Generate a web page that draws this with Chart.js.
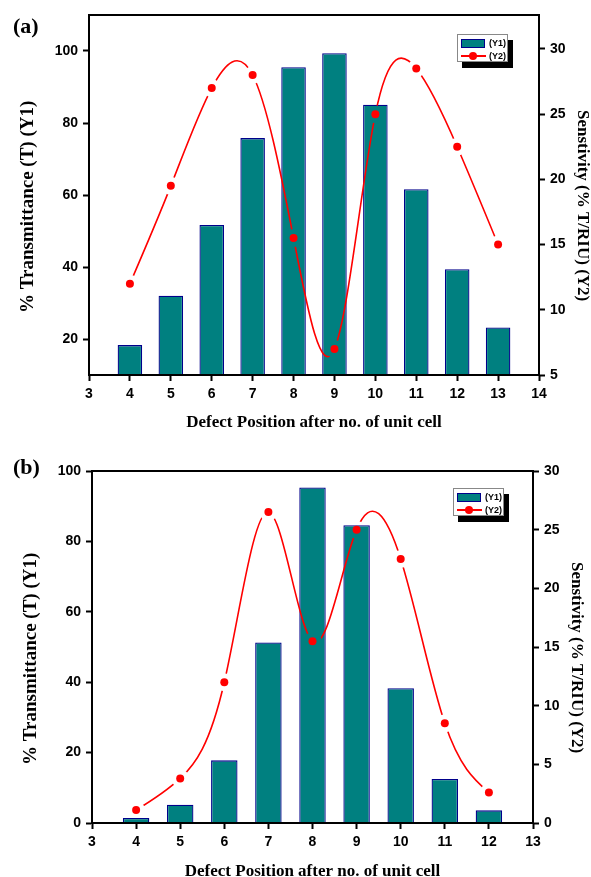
<!DOCTYPE html>
<html>
<head>
<meta charset="utf-8">
<script src="https://cdn.jsdelivr.net/npm/chart.js@4.4.0/dist/chart.umd.min.js"></script>
<style>
  body { margin: 0; background: #fff; width: 591px; height: 877px; overflow: hidden; position: relative; }
  .panel { position: absolute; left: 0; width: 591px; }
  .tag { position: absolute; left: 13px; font: bold 22px "Liberation Serif", serif; line-height: 1; }
  .legend { position: absolute; width: 49px; height: 26px; border: 1px solid #888; background: #fff;
            box-shadow: 5px 6px 0 #000; font: bold 9px "Liberation Sans", Arial, sans-serif; }
  .legend .row { position: absolute; left: 3px; height: 10px; width: 48px; }
  .legend .sw { position: absolute; left: 0; top: 1px; width: 22px; height: 7px; background: #008080; border: 1px solid #00008b; }
  .legend .ln { position: absolute; left: 0; top: 4px; width: 25px; height: 2px; background: #ff0000; }
  .legend .dot { position: absolute; left: 8px; top: 1px; width: 8px; height: 8px; border-radius: 50%; background: #ff0000; }
  .legend .txt { position: absolute; left: 28px; top: 0; line-height: 10px; }
</style>
</head>
<body>
<div class="panel" style="top:0;height:438px"><canvas id="chartA" width="591" height="438"></canvas></div>
<div class="panel" style="top:438px;height:445px"><canvas id="chartB" width="591" height="445"></canvas></div>
<div class="tag" style="top:15px">(a)</div>
<div class="tag" style="top:456px">(b)</div>
<div class="legend" style="left:457px;top:34px">
  <div class="row" style="top:3px"><div class="sw"></div><div class="txt">(Y1)</div></div>
  <div class="row" style="top:16px"><div class="ln"></div><div class="dot"></div><div class="txt">(Y2)</div></div>
</div>
<div class="legend" style="left:453px;top:488px">
  <div class="row" style="top:3px"><div class="sw"></div><div class="txt">(Y1)</div></div>
  <div class="row" style="top:16px"><div class="ln"></div><div class="dot"></div><div class="txt">(Y2)</div></div>
</div>
<script>
// panel (a)
var posA = [4, 5, 6, 7, 8, 9, 10, 11, 12, 13];
var transA = [18.3, 32.0, 51.7, 75.8, 95.5, 99.4, 85.1, 61.6, 39.4, 23.2];
var sensA = [12.0, 19.5, 27.0, 28.0, 15.5, 7.0, 25.0, 28.5, 22.5, 15.0];
var xTicksA = [3, 4, 5, 6, 7, 8, 9, 10, 11, 12, 13, 14];
var y1TicksA = [20, 40, 60, 80, 100];
var y2TicksA = [5, 10, 15, 20, 25, 30];

// panel (b)
var posB = [4, 5, 6, 7, 8, 9, 10, 11, 12];
var transB = [1.4, 5.2, 17.8, 51.3, 95.3, 84.6, 38.3, 12.5, 3.6];
var sensB = [1.1, 3.8, 12.0, 26.5, 15.5, 25.0, 22.5, 8.5, 2.6];
var xTicksB = [3, 4, 5, 6, 7, 8, 9, 10, 11, 12, 13];
var y1TicksB = [0, 20, 40, 60, 80, 100];
var y2TicksB = [0, 5, 10, 15, 20, 25, 30];

var xTitle = 'Defect Position after no. of unit cell';
// les espaces décalent un peu les titres vers le bas, comme sur l'original
var y1Title = '% Transmittance (T) (Y1)     ';
var y2Title = '     Senstivity (% T/RIU) (Y2)';

Chart.defaults.font.family = '"Liberation Sans", Arial, sans-serif';
Chart.defaults.color = '#000';

var tickFont = { family: '"Liberation Sans", Arial, sans-serif', size: 14, weight: 'bold' };

// cadre noir autour de la zone de tracé
var frame = {
  id: 'frame',
  afterDatasetsDraw: function (chart) {
    var a = chart.chartArea, ctx = chart.ctx;
    ctx.save();
    ctx.strokeStyle = '#000';
    ctx.lineWidth = 2;
    ctx.strokeRect(a.left, a.top, a.right - a.left, a.bottom - a.top);
    ctx.restore();
  }
};

// pentes d'une spline cubique naturelle (en pixels)
function splineSlopes(p) {
  var n = p.length, h = [], d = [], M = [], cp = [], rp = [], s = [];
  for (var i = 0; i < n - 1; i++) {
    h[i] = p[i + 1].x - p[i].x;
    d[i] = (p[i + 1].y - p[i].y) / h[i];
  }
  for (i = 0; i < n; i++) M[i] = 0;
  for (i = 1; i < n - 1; i++) {
    var a = h[i - 1], b = 2 * (h[i - 1] + h[i]), c = h[i], r = 6 * (d[i] - d[i - 1]);
    var m = b - (i > 1 ? a * cp[i - 1] : 0);
    cp[i] = c / m;
    rp[i] = (r - (i > 1 ? a * rp[i - 1] : 0)) / m;
  }
  for (i = n - 2; i >= 1; i--) M[i] = rp[i] - (i < n - 2 ? cp[i] * M[i + 1] : 0);
  for (i = 0; i < n - 1; i++) s[i] = d[i] - h[i] * (2 * M[i] + M[i + 1]) / 6;
  s[n - 1] = d[n - 2] + h[n - 2] * (M[n - 2] + 2 * M[n - 1]) / 6;
  return s;
}

// la ligne de Y2 : courbe lissée, interrompue autour des symboles
var smooth = {
  id: 'smooth',
  beforeDatasetDraw: function (chart, args) {
    var ds = chart.data.datasets[args.index];
    if (!ds.spline) return;
    var meta = args.meta, pts = meta.data, line = meta.dataset;
    line.updateControlPoints(chart.chartArea, 'x');
    var s = splineSlopes(pts);
    for (var i = 0; i < pts.length - 1; i++) {
      var h = (pts[i + 1].x - pts[i].x) / 3;
      pts[i].cp2x = pts[i].x + h;
      pts[i].cp2y = pts[i].y + s[i] * h;
      pts[i + 1].cp1x = pts[i + 1].x - h;
      pts[i + 1].cp1y = pts[i + 1].y - s[i + 1] * h;
    }
    var ctx = chart.ctx;
    ctx.save();
    ctx.beginPath();
    ctx.rect(0, 0, chart.width, chart.height);
    pts.forEach(function (p) {
      ctx.moveTo(p.x + 9, p.y);
      ctx.arc(p.x, p.y, 9, 0, Math.PI * 2, true);
    });
    ctx.clip('evenodd');
  },
  afterDatasetDraw: function (chart, args) {
    if (chart.data.datasets[args.index].spline) chart.ctx.restore();
  }
};

function points(xs, ys) {
  return xs.map(function (x, i) { return { x: x, y: ys[i] }; });
}

function axis(pos, min, max, tickList, title, size, titlePad, titleSize) {
  return {
    type: 'linear',
    position: pos,
    min: min,
    max: max,
    offset: false,
    afterBuildTicks: function (s) { s.ticks = tickList.map(function (v) { return { value: v }; }); },
    afterFit: function (s) {
      if (pos === 'bottom') s.height = size; else s.width = size;
    },
    ticks: { font: tickFont, color: '#000', padding: 5 },
    grid: { drawOnChartArea: false, offset: false, tickLength: 6, color: '#000', tickWidth: 2 },
    border: { display: true, color: '#000', width: 2 },
    title: {
      display: true,
      text: title,
      color: '#000',
      font: { family: '"Liberation Serif", serif', size: titleSize, weight: 'bold' },
      padding: titlePad
    }
  };
}

function makeChart(id, xs, bars, line, o) {
  var ctx = document.getElementById(id).getContext('2d');
  return new Chart(ctx, {
    type: 'bar',
    data: {
      datasets: [{
        type: 'line',
        label: '(Y2)',
        data: points(xs, line),
        yAxisID: 'y2',
        spline: true,
        borderColor: '#ff0000',
        borderWidth: 1.6,
        pointRadius: 0,
        tension: 0.4,
        order: 0
      }, {
        type: 'line',
        label: '(Y2) symbols',
        data: points(xs, line),
        yAxisID: 'y2',
        showLine: false,
        pointBackgroundColor: '#ff0000',
        pointBorderWidth: 0,
        pointRadius: 4,
        order: -1
      }, {
        type: 'bar',
        label: '(Y1)',
        data: points(xs, bars),
        yAxisID: 'y',
        backgroundColor: '#008080',
        borderColor: '#00008b',
        borderWidth: 1.3,
        barPercentage: 0.6,
        categoryPercentage: 1,
        order: 1
      }]
    },
    options: {
      responsive: false,
      animation: false,
      layout: { padding: { top: o.top, left: 0, right: 0, bottom: 0 } },
      plugins: { legend: { display: false }, tooltip: { enabled: false } },
      scales: {
        x: axis('bottom', o.xMin, o.xMax, o.xTicks, xTitle, o.xH, { top: 0, bottom: o.xPad }, 17),
        y: axis('left', o.y1Min, o.y1Max, o.y1Ticks, y1Title, o.leftW, { top: o.lPad, bottom: 0 }, 19),
        y2: axis('right', o.y2Min, o.y2Max, o.y2Ticks, y2Title, o.rightW, { top: o.rPad, bottom: 0 }, 17)
      }
    },
    plugins: [smooth, frame]
  });
}

makeChart('chartA', posA, transA, sensA, {
  top: 15, xMin: 3, xMax: 14, xTicks: xTicksA, xH: 63, xPad: 5,
  y1Min: 10, y1Max: 110, y1Ticks: y1TicksA, leftW: 89, lPad: 17,
  y2Min: 5, y2Max: 32.6, y2Ticks: y2TicksA, rightW: 52, rPad: -2
});

makeChart('chartB', posB, transB, sensB, {
  top: 33, xMin: 3, xMax: 13, xTicks: xTicksB, xH: 60, xPad: 1,
  y1Min: 0, y1Max: 100, y1Ticks: y1TicksB, leftW: 92, lPad: 20,
  y2Min: 0, y2Max: 30, y2Ticks: y2TicksB, rightW: 58, rPad: 4
});
</script>
</body>
</html>
